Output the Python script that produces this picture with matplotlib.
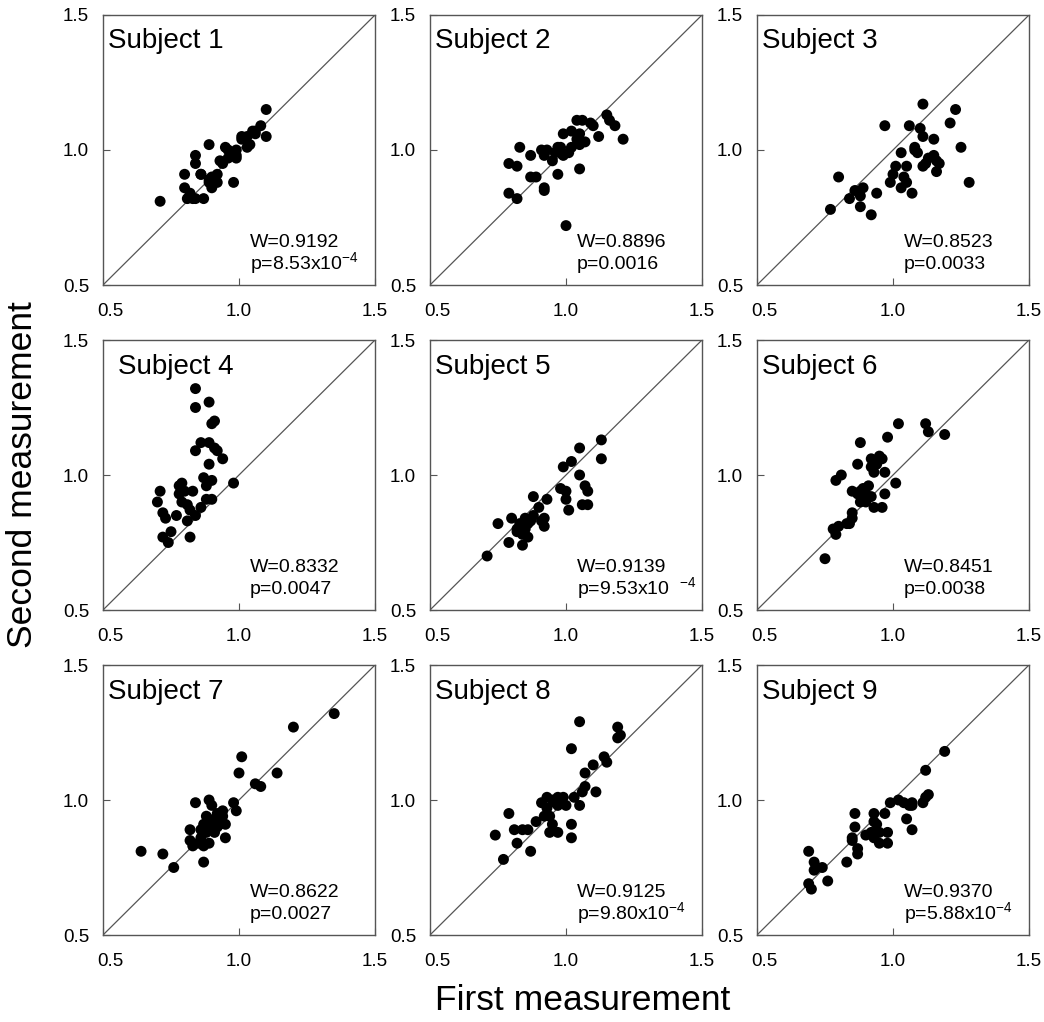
import matplotlib
matplotlib.use("Agg")
from matplotlib import pyplot as plt
from matplotlib.transforms import ScaledTranslation

plt.rcParams['font.family'] = ['Liberation Sans', 'DejaVu Sans']
plt.rcParams['mathtext.fontset'] = 'custom'
plt.rcParams['mathtext.rm'] = 'Liberation Sans'
plt.rcParams['mathtext.it'] = 'Liberation Sans'

# values
subjects = ["Subject 1", "Subject 2", "Subject 3",
            "Subject 4", "Subject 5", "Subject 6",
            "Subject 7", "Subject 8", "Subject 9"]
w_values = ["W=0.9192", "W=0.8896", "W=0.8523",
            "W=0.8332", "W=0.9139", "W=0.8451",
            "W=0.8622", "W=0.9125", "W=0.9370"]
p_values = [r"p=8.53x10$^{-4}$", "p=0.0016", "p=0.0033",
            "p=0.0047", r"p=9.53x10  $^{-4}$", "p=0.0038",
            "p=0.0027", r"p=9.80x10$^{-4}$", r"p=5.88x10$^{-4}$"]
tick_vals = [0.5, 1.0, 1.5]
tick_labels = ["0.5", "1.0", "1.5"]

s1_x = [0.71, 0.80, 0.80, 0.81, 0.83, 0.84, 0.84, 0.87, 0.84, 0.86, 0.89, 0.89, 0.90, 0.90,
        0.92, 0.92, 0.90, 0.94, 0.95, 0.96, 0.99, 0.98, 0.99, 0.99, 1.01, 1.01, 1.03, 1.03,
        1.05, 1.06, 1.08, 1.10, 1.10, 0.86, 0.89, 0.93, 0.96, 1.04, 1.06, 0.82]
s1_y = [0.81, 0.91, 0.86, 0.82, 0.82, 0.82, 0.98, 0.82, 0.95, 0.91, 0.88, 1.02, 0.90, 0.86,
        0.88, 0.91, 0.87, 0.95, 1.01, 0.97, 0.98, 0.88, 0.97, 1.00, 1.04, 1.05, 1.01, 1.05,
        1.07, 1.06, 1.09, 1.15, 1.05, 0.91, 0.89, 0.96, 1.00, 1.02, 1.07, 0.84]

s2_x = [0.79, 0.82, 0.83, 0.87, 0.79, 0.82, 0.87, 0.89, 0.91, 0.92, 0.95, 0.92, 0.92, 0.97,
        0.98, 0.99, 0.97, 0.99, 1.00, 1.02, 1.04, 1.05, 1.04, 1.06, 1.07, 1.05, 1.10, 1.12,
        1.15, 1.16, 1.18, 1.21, 0.96, 1.01, 0.98, 1.02, 0.93, 1.09, 1.05]
s2_y = [0.95, 0.94, 1.01, 0.98, 0.84, 0.82, 0.90, 0.90, 1.00, 0.98, 0.96, 0.85, 0.86, 1.01,
        0.99, 0.98, 0.91, 1.06, 0.72, 1.01, 1.04, 1.06, 1.11, 1.11, 1.03, 0.93, 1.09, 1.05,
        1.13, 1.11, 1.09, 1.04, 0.99, 0.99, 1.01, 1.07, 1.00, 1.10, 1.02]

s3_x = [0.77, 0.80, 0.84, 0.86, 0.88, 0.89, 0.88, 0.92, 0.94, 0.97, 0.99, 1.00, 1.01, 1.03,
        1.03, 1.05, 1.05, 1.07, 1.06, 1.08, 1.09, 1.10, 1.11, 1.11, 1.11, 1.12, 1.15, 1.15,
        1.16, 1.17, 1.16, 1.21, 1.23, 1.25, 1.28, 1.04, 1.08, 1.13]
s3_y = [0.78, 0.90, 0.82, 0.85, 0.83, 0.86, 0.79, 0.76, 0.84, 1.09, 0.88, 0.91, 0.94, 0.99,
        0.86, 0.94, 0.88, 0.84, 1.09, 1.01, 0.99, 1.08, 1.17, 1.05, 0.94, 0.95, 1.04, 0.98,
        0.96, 0.95, 0.92, 1.10, 1.15, 1.01, 0.88, 0.90, 1.00, 0.97]

s4_x = [0.84, 0.84, 0.89, 0.91, 0.90, 0.86, 0.84, 0.89, 0.91, 0.92, 0.94, 0.89, 0.87, 0.88,
        0.90, 0.98, 0.71, 0.78, 0.79, 0.80, 0.83, 0.70, 0.72, 0.73, 0.77, 0.81, 0.82, 0.81,
        0.84, 0.86, 0.88, 0.90, 0.75, 0.74, 0.72, 0.82, 0.78, 0.79]
s4_y = [1.32, 1.25, 1.27, 1.20, 1.19, 1.12, 1.09, 1.12, 1.10, 1.09, 1.06, 1.04, 0.99, 0.96,
        0.98, 0.97, 0.94, 0.96, 0.97, 0.94, 0.94, 0.90, 0.86, 0.84, 0.85, 0.89, 0.87, 0.83,
        0.85, 0.88, 0.91, 0.91, 0.79, 0.75, 0.77, 0.77, 0.93, 0.90]

s5_x = [0.71, 0.75, 0.79, 0.80, 0.82, 0.84, 0.85, 0.86, 0.83, 0.86, 0.88, 0.90, 0.88, 0.93,
        0.92, 0.92, 0.85, 0.83, 0.98, 0.99, 1.00, 1.01, 1.02, 1.05, 1.05, 1.07, 1.08, 1.06,
        1.08, 1.13, 1.13, 1.00, 0.91, 0.82, 0.84, 0.87]
s5_y = [0.70, 0.82, 0.75, 0.84, 0.80, 0.74, 0.84, 0.82, 0.82, 0.77, 0.85, 0.88, 0.92, 0.91,
        0.84, 0.81, 0.80, 0.79, 0.95, 1.03, 0.94, 0.87, 1.05, 1.10, 1.00, 0.96, 0.94, 0.89,
        0.89, 1.13, 1.06, 0.91, 0.83, 0.79, 0.78, 0.83]

s6_x = [0.75, 0.78, 0.79, 0.80, 0.84, 0.85, 0.85, 0.79, 0.81, 0.88, 0.87, 0.85, 0.87, 0.88,
        0.88, 0.90, 0.91, 0.92, 0.92, 0.93, 0.95, 0.96, 0.97, 0.93, 0.96, 0.97, 1.01, 0.98,
        1.02, 1.12, 1.13, 1.19, 0.90, 0.92, 0.83, 0.94, 0.89]
s6_y = [0.69, 0.80, 0.78, 0.81, 0.82, 0.84, 0.86, 0.98, 1.00, 1.12, 1.04, 0.94, 0.93, 0.94,
        0.90, 0.93, 0.96, 1.06, 1.03, 1.01, 1.07, 1.06, 1.01, 0.88, 0.88, 0.93, 0.97, 1.14,
        1.19, 1.19, 1.16, 1.15, 0.90, 0.92, 0.82, 1.04, 0.95]

s7_x = [0.64, 0.72, 0.76, 0.87, 1.35, 1.20, 1.01, 1.00, 1.14, 1.06, 1.08, 0.98, 0.84, 0.89,
        0.99, 0.82, 0.82, 0.83, 0.87, 0.86, 0.88, 0.89, 0.91, 0.92, 0.93, 0.94, 0.95, 0.95,
        0.90, 0.88, 0.91, 0.87, 0.89, 0.92, 0.85, 0.94, 0.90, 0.86]
s7_y = [0.81, 0.80, 0.75, 0.77, 1.32, 1.27, 1.16, 1.10, 1.10, 1.06, 1.05, 0.99, 0.99, 1.00,
        0.96, 0.89, 0.85, 0.83, 0.83, 0.86, 0.88, 0.90, 0.93, 0.95, 0.91, 0.94, 0.91, 0.86,
        0.98, 0.94, 0.88, 0.91, 0.84, 0.90, 0.84, 0.96, 0.92, 0.89]

s8_x = [0.74, 0.77, 0.79, 0.81, 0.82, 0.84, 0.86, 0.87, 0.89, 0.91, 0.93, 0.93, 0.94, 0.94,
        0.95, 0.96, 0.97, 0.97, 0.99, 1.00, 1.02, 1.02, 1.02, 1.03, 1.05, 1.05, 1.06, 1.07,
        1.07, 1.10, 1.11, 1.14, 1.15, 1.19, 1.19, 1.20, 0.97, 0.92, 0.95]
s8_y = [0.87, 0.78, 0.95, 0.89, 0.84, 0.89, 0.89, 0.81, 0.92, 0.99, 0.97, 1.01, 0.94, 0.88,
        0.91, 0.99, 0.88, 1.01, 1.01, 0.98, 0.91, 0.86, 1.19, 1.01, 0.98, 1.29, 1.03, 1.05,
        1.10, 1.13, 1.03, 1.16, 1.14, 1.27, 1.23, 1.24, 0.98, 0.94, 1.00]

s9_x = [0.69, 0.69, 0.70, 0.71, 0.71, 0.72, 0.74, 0.76, 0.83, 0.85, 0.85, 0.86, 0.86, 0.87,
        0.87, 0.90, 0.93, 0.93, 0.93, 0.94, 0.95, 0.95, 0.97, 0.98, 0.98, 0.99, 1.02, 1.04,
        1.06, 1.07, 1.07, 1.05, 1.07, 1.11, 1.12, 1.12, 1.19, 1.13, 0.92]
s9_y = [0.81, 0.69, 0.67, 0.77, 0.74, 0.75, 0.75, 0.70, 0.77, 0.85, 0.86, 0.90, 0.95, 0.82,
        0.80, 0.87, 0.95, 0.92, 0.86, 0.91, 0.84, 0.88, 0.95, 0.84, 0.88, 0.99, 1.00, 0.99,
        0.98, 0.99, 0.98, 0.93, 0.89, 0.99, 1.01, 1.11, 1.18, 1.02, 0.88]

xs = [s1_x, s2_x, s3_x, s4_x, s5_x, s6_x, s7_x, s8_x, s9_x]
ys = [s1_y, s2_y, s3_y, s4_y, s5_y, s6_y, s7_y, s8_y, s9_y]

W, H = 1044, 1022
fig = plt.figure(figsize=(W / 100, H / 100), dpi=100)

# panel boxes in pixels (left, top), each 272 x 270
lefts = [103, 430, 757]
tops = [15, 340, 665]
pw, ph = 272, 270

for i in range(9):
    r, c = divmod(i, 3)
    ax = fig.add_axes([lefts[c] / W, 1 - (tops[r] + ph) / H, pw / W, ph / H])
    ax.plot([0.5, 1.5], [0.5, 1.5], color='#555555', lw=0.9, zorder=1)
    ax.scatter(xs[i], ys[i], s=62, color='black', edgecolors='none', zorder=2)
    ax.set_xlim(0.5, 1.5)
    ax.set_ylim(0.5, 1.5)
    ax.set_xticks(tick_vals)
    ax.set_xticklabels(tick_labels)
    ax.set_yticks(tick_vals)
    ax.set_yticklabels(tick_labels)
    ax.tick_params(direction='in', length=5, width=0.8, color='#555555',
                   labelsize=13.5)
    ax.tick_params(axis='x', pad=13)
    ax.tick_params(axis='y', pad=10)
    # first x label sits a little to the right in the original
    lab = ax.get_xticklabels()[0]
    lab.set_transform(lab.get_transform() + ScaledTranslation(7 / 100, 0, fig.dpi_scale_trans))
    for sp in ax.spines.values():
        sp.set_color('#555555')
        sp.set_linewidth(1.0)
    sx = 0.055 if i == 3 else 0.02
    ax.text(sx, 0.95, subjects[i], transform=ax.transAxes, fontsize=20,
            ha='left', va='top')
    ax.text(0.54, 0.14, w_values[i], transform=ax.transAxes, fontsize=14,
            ha='left', va='baseline')
    ax.text(0.54, 0.058, p_values[i], transform=ax.transAxes, fontsize=14,
            ha='left', va='baseline')

fig.text(583 / W, 1 - 1000 / H, "First measurement", fontsize=25.5,
         ha='center', va='center')
fig.text(23 / W, 1 - 475 / H, "Second measurement", fontsize=25.5,
         ha='center', va='center', rotation=90)

fig.savefig("out.png", dpi=100)
